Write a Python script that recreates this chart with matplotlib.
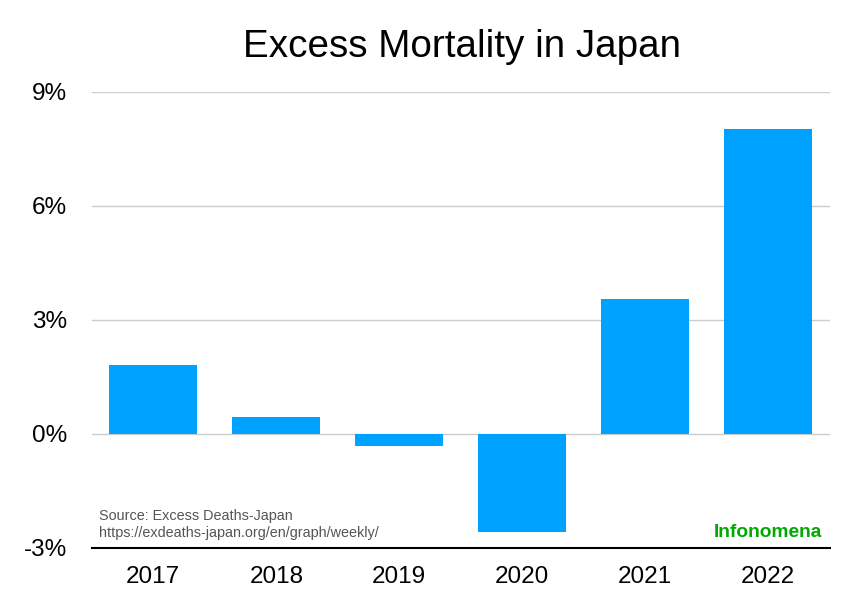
import matplotlib
matplotlib.use("Agg")
import matplotlib.pyplot as plt

years = ["2017", "2018", "2019", "2020", "2021", "2022"]
excess = [1.82, 0.45, -0.32, -2.58, 3.55, 8.03]
yticks = [-3, 0, 3, 6, 9]
ytick_labels = ["-3%", "0%", "3%", "6%", "9%"]

plt.rcParams['font.family'] = ['Liberation Sans', 'DejaVu Sans']

fig = plt.figure(figsize=(8.66, 6.08), dpi=100)
ax = fig.add_axes([0.106, 0.0987, 0.852, 0.750])

x = list(range(len(years)))
ax.bar(x, excess, width=0.715, color="#00A2FF", zorder=3)
ax.set_xlim(-0.5, len(years) - 0.5)
ax.set_ylim(-3, 9)
ax.set_yticks(yticks)
ax.set_yticklabels(ytick_labels, fontsize=17.5)
ax.set_xticks(x)
ax.set_xticklabels(years, fontsize=17.5)
ax.tick_params(axis='both', length=0)
ax.tick_params(axis='y', pad=18)
ax.tick_params(axis='x', pad=13)
for v in [0, 3, 6, 9]:
    ax.axhline(v, color="#cccccc", linewidth=1, zorder=1)
for s in ["top", "right", "left"]:
    ax.spines[s].set_visible(False)
ax.spines["bottom"].set_color("black")
ax.spines["bottom"].set_linewidth(1.5)

fig.text(0.533, 0.922, "Excess Mortality in Japan", ha="center", va="center", fontsize=27.8)
ax.text(0.010, 0.070, "Source: Excess Deaths-Japan", transform=ax.transAxes,
        fontsize=10.4, color="#555555", va="center")
ax.text(0.010, 0.033, "https://exdeaths-japan.org/en/graph/weekly/", transform=ax.transAxes,
        fontsize=10.4, color="#555555", va="center")
ax.text(0.989, 0.035, "Infonomena", transform=ax.transAxes, fontsize=13.8,
        color="#00AA00", fontweight="bold", ha="right", va="center")

fig.savefig("out.png", dpi=100)
